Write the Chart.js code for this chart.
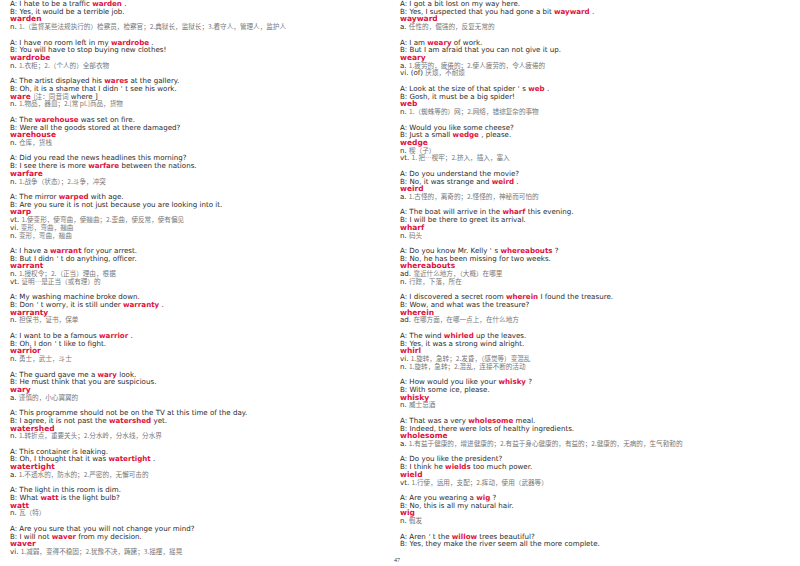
<!DOCTYPE html>
<html><head><meta charset="utf-8">
<script src="https://cdn.jsdelivr.net/npm/chart.js@4"></script>
<style>
html,body{margin:0;padding:0;background:#fff;width:800px;height:566px;overflow:hidden}
.col{position:absolute;top:0;font-family:"DejaVu Sans",Verdana,sans-serif;font-size:7.1px;line-height:7.73px;color:#2a2a2a;white-space:nowrap}
.col div{height:7.73px}
.hw{color:#e0103c;font-weight:bold}
.head{color:#e0103c;font-weight:bold;font-size:7.5px}
.zh{font-family:"Noto Sans CJK SC",serif;color:#777;font-size:6.6px}
#pg{position:absolute;left:394px;top:557px;font-family:"Liberation Serif",serif;font-size:6px;color:#333}
#c{position:absolute;left:0;top:0;width:1px;height:1px}
</style></head><body>
<canvas id="c"></canvas>
<div class="col" id="left" style="left:10px"></div>
<div class="col" id="right" style="left:400px"></div>
<div id="pg">47</div>
<script>
// each entry: [A line, B line, headword, definitions...]; *word* marks the highlighted word
const leftEntries = [
 ["A: I hate to be a traffic *warden* .","B: Yes, it would be a terrible job.","warden","n. |1.（监督某些法规执行的）检察员，检察官；2.典狱长，监狱长；3.看守人，管理人，监护人"],
 ["A: I have no room left in my *wardrobe* .","B: You will have to stop buying new clothes!","wardrobe","n. |1.衣柜；2.（个人的）全部衣物"],
 ["A: The artist displayed his *wares* at the gallery.","B: Oh, it is a shame that I didn＇t see his work.","ware","n. |1.物品，器皿；2.[常 pl.]商品，货物"],
 ["A: The *warehouse* was set on fire.","B: Were all the goods stored at there damaged?","warehouse","n. |仓库，货栈"],
 ["A: Did you read the news headlines this morning?","B: I see there is more *warfare* between the nations.","warfare","n. |1.战争（状态）；2.斗争，冲突"],
 ["A: The mirror *warped* with age.","B: Are you sure it is not just because you are looking into it.","warp","vt. |1.使变形，使弯曲，使翘曲；2.歪曲，使反常，使有偏见","vi. |变形，弯曲，翘曲","n. |变形，弯曲，翘曲"],
 ["A: I have a *warrant* for your arrest.","B: But I didn＇t do anything, officer.","warrant","n. |1.授权令；2.（正当）理由，根据","vt. |证明…是正当（或有理）的"],
 ["A: My washing machine broke down.","B: Don＇t worry, it is still under *warranty* .","warranty","n. |担保书，证书，保单"],
 ["A: I want to be a famous *warrior* .","B: Oh, I don＇t like to fight.","warrior","n. |勇士，武士，斗士"],
 ["A: The guard gave me a *wary* look.","B: He must think that you are suspicious.","wary","a. |谨慎的，小心翼翼的"],
 ["A: This programme should not be on the TV at this time of the day.","B: I agree, it is not past the *watershed* yet.","watershed","n. |1.转折点，重要关头；2.分水岭，分水线，分水界"],
 ["A: This container is leaking.","B: Oh, I thought that it was *watertight* .","watertight","a. |1.不透水的，防水的；2.严密的，无懈可击的"],
 ["A: The light in this room is dim.","B: What *watt* is the light bulb?","watt","n. |瓦（特）"],
 ["A: Are you sure that you will not change your mind?","B: I will not *waver* from my decision.","waver","vi. |1.减弱，变得不稳固；2.犹豫不决，踌躇；3.摇摆，摇晃"]
];
const rightEntries = [
 ["A: I got a bit lost on my way here.","B: Yes, I suspected that you had gone a bit *wayward* .","wayward","a. |任性的，倔强的，反复无常的"],
 ["A: I am *weary* of work.","B: But I am afraid that you can not give it up.","weary","a. |1.疲劳的，疲倦的；2.使人疲劳的，令人疲倦的","vi. (of) |厌烦，不耐烦"],
 ["A: Look at the size of that spider＇s *web* .","B: Gosh, it must be a big spider!","web","n. |1.（蜘蛛等的）网；2.网络，错综复杂的事物"],
 ["A: Would you like some cheese?","B: Just a small *wedge* , please.","wedge","n. |楔（子）","vt. |1. 把…楔牢；2.挤入，插入，塞入"],
 ["A: Do you understand the movie?","B: No, it was strange and *weird* .","weird","a. |1.古怪的，离奇的；2.怪怪的，神秘而可怕的"],
 ["A: The boat will arrive in the *wharf* this evening.","B: I will be there to greet its arrival.","wharf","n. |码头"],
 ["A: Do you know Mr. Kelly＇s *whereabouts* ?","B: No, he has been missing for two weeks.","whereabouts","ad. |靠近什么地方，（大概）在哪里","n. |行踪，下落，所在"],
 ["A: I discovered a secret room *wherein* I found the treasure.","B: Wow, and what was the treasure?","wherein","ad. |在哪方面，在哪一点上，在什么地方"],
 ["A: The wind *whirled* up the leaves.","B: Yes, it was a strong wind alright.","whirl","vi. |1.旋转，急转；2.发昏，（感觉等）变混乱","n. |1.旋转，急转；2.混乱，连接不断的活动"],
 ["A: How would you like your *whisky* ?","B: With some ice, please.","whisky","n. |威士忌酒"],
 ["A: That was a very *wholesome* meal.","B: Indeed, there were lots of healthy ingredients.","wholesome","a. |1.有益于健康的，增进健康的；2.有益于身心健康的，有益的；2.健康的，无病的，生气勃勃的"],
 ["A: Do you like the president?","B: I think he *wields* too much power.","wield","vt. |1.行使，运用，支配；2.挥动，使用（武器等）"],
 ["A: Are you wearing a *wig* ?","B: No, this is all my natural hair.","wig","n. |假发"],
 ["A: Aren＇t the *willow* trees beautiful?","B: Yes, they make the river seem all the more complete."]
];
function esc(s){return s.replace(/&/g,'&amp;').replace(/</g,'&lt;');}
function sent(s){return esc(s).replace(/\*(.+?)\*/,'<span class="hw">$1</span>');}
function def(s){const p=s.split('|');return esc(p[0])+'<span class="zh">'+esc(p[1]||'')+'</span>';}
function render(id,entries){
  let h='';
  entries.forEach((e,i)=>{
    if(i) h+='<div></div>';
    h+='<div>'+sent(e[0])+'</div><div>'+sent(e[1])+'</div>';
    if(e[2]){
      let hd=esc(e[2]);
      if(e[2]==='ware') hd+=' <span class="zh" style="font-weight:normal">[注：同音词</span><span style="font-weight:normal;color:#2a2a2a;font-size:7.1px"> where ]</span>';
      h+='<div class="head">'+hd+'</div>';
      for(let k=3;k<e.length;k++) h+='<div>'+def(e[k])+'</div>';
    }
  });
  document.getElementById(id).innerHTML=h;
}
render('left',leftEntries);render('right',rightEntries);
new Chart(document.getElementById('c'),{type:'bar',data:{labels:[],datasets:[]},options:{responsive:false,animation:false,plugins:{legend:{display:false},tooltip:{enabled:false}},scales:{x:{display:false},y:{display:false}}}});
</script>
</body></html>
